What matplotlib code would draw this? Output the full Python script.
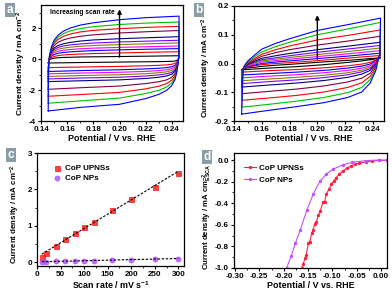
import numpy as np
import matplotlib
matplotlib.use("Agg")
import matplotlib.pyplot as plt
from matplotlib.ticker import MultipleLocator, FormatStrFormatter

plt.rcParams['font.family'] = ['Liberation Sans', 'DejaVu Sans']
plt.rcParams['font.weight'] = 'bold'
plt.rcParams['axes.unicode_minus'] = False
plt.rcParams['mathtext.fontset'] = 'custom'
plt.rcParams['mathtext.rm'] = 'Liberation Sans:bold'
plt.rcParams['mathtext.it'] = 'Liberation Sans:bold'
plt.rcParams['mathtext.bf'] = 'Liberation Sans:bold'
plt.rcParams['mathtext.default'] = 'rm'

# ---------------- data ----------------
scan_rates = [10, 20, 40, 60, 80, 100, 120, 160, 200, 250, 300]
loop_colors = ['#000000', '#ff0000', '#0000ff', '#ff00ff', '#808000', '#8000ff',
               '#000080', '#800040', '#ff0000', '#00c000', '#0000ff']

# panel a: CoP UPNSs CV loops (upper = anodic branch, lower = cathodic branch)
a_E_up = [0.1455, 0.1458, 0.1465, 0.148, 0.150, 0.153, 0.157, 0.162, 0.170, 0.180, 0.200, 0.220, 0.2455]
a_E_low = [0.2455, 0.2453, 0.2448, 0.2438, 0.2425, 0.240, 0.236, 0.230, 0.220, 0.200, 0.170, 0.1455]
a_up = [
    [-0.25, -0.15, -0.05, 0.02, 0.06, 0.09, 0.11, 0.12, 0.14, 0.15, 0.17, 0.19, 0.22],
    [-0.55, -0.30, -0.05, 0.10, 0.17, 0.23, 0.27, 0.30, 0.33, 0.36, 0.40, 0.44, 0.48],
    [-0.80, -0.35, 0.00, 0.20, 0.30, 0.38, 0.43, 0.47, 0.51, 0.55, 0.60, 0.64, 0.68],
    [-0.95, -0.35, 0.05, 0.28, 0.42, 0.51, 0.57, 0.62, 0.67, 0.71, 0.76, 0.80, 0.85],
    [-1.12, -0.35, 0.08, 0.36, 0.52, 0.64, 0.71, 0.77, 0.83, 0.88, 0.94, 0.99, 1.05],
    [-1.28, -0.35, 0.10, 0.43, 0.62, 0.76, 0.85, 0.92, 0.98, 1.04, 1.11, 1.16, 1.22],
    [-1.45, -0.35, 0.12, 0.50, 0.72, 0.88, 0.99, 1.08, 1.17, 1.24, 1.32, 1.38, 1.45],
    [-1.95, -0.35, 0.15, 0.60, 0.88, 1.09, 1.24, 1.36, 1.48, 1.57, 1.69, 1.77, 1.85],
    [-2.40, -0.35, 0.18, 0.68, 1.02, 1.28, 1.47, 1.62, 1.76, 1.86, 1.97, 2.05, 2.12],
    [-2.85, -0.35, 0.20, 0.74, 1.12, 1.42, 1.64, 1.82, 1.98, 2.10, 2.24, 2.33, 2.40],
    [-3.35, -0.35, 0.22, 0.80, 1.22, 1.55, 1.80, 2.00, 2.20, 2.35, 2.55, 2.68, 2.78],
]
a_low = [
    [0.22, 0.08, -0.02, -0.08, -0.12, -0.14, -0.15, -0.16, -0.17, -0.19, -0.22, -0.25],
    [0.48, 0.15, -0.05, -0.18, -0.27, -0.33, -0.37, -0.40, -0.43, -0.47, -0.51, -0.55],
    [0.68, 0.18, -0.08, -0.27, -0.40, -0.49, -0.55, -0.59, -0.63, -0.69, -0.74, -0.80],
    [0.85, 0.18, -0.10, -0.34, -0.50, -0.61, -0.69, -0.74, -0.79, -0.85, -0.90, -0.95],
    [1.05, 0.18, -0.12, -0.40, -0.60, -0.73, -0.82, -0.88, -0.94, -1.01, -1.06, -1.12],
    [1.22, 0.18, -0.14, -0.46, -0.69, -0.85, -0.95, -1.02, -1.09, -1.17, -1.22, -1.28],
    [1.45, 0.18, -0.16, -0.52, -0.78, -0.97, -1.09, -1.17, -1.25, -1.34, -1.40, -1.45],
    [1.85, 0.18, -0.18, -0.60, -0.92, -1.17, -1.34, -1.46, -1.58, -1.74, -1.85, -1.95],
    [2.12, 0.18, -0.20, -0.68, -1.06, -1.36, -1.58, -1.75, -1.92, -2.15, -2.29, -2.40],
    [2.40, 0.18, -0.22, -0.75, -1.18, -1.53, -1.80, -2.02, -2.22, -2.52, -2.70, -2.85],
    [2.78, 0.18, -0.25, -0.82, -1.30, -1.70, -2.02, -2.28, -2.55, -2.92, -3.12, -3.35],
]

# panel b: CoP NPs CV loops
b_E_up = [0.1455, 0.1465, 0.148, 0.150, 0.155, 0.160, 0.170, 0.180, 0.200, 0.225, 0.2455]
b_E_low = [0.2455, 0.2450, 0.2440, 0.242, 0.238, 0.232, 0.222, 0.205, 0.185, 0.165, 0.1455]
b_up = [
    [-0.022, -0.018, -0.017, -0.015, -0.013, -0.010, -0.006, -0.003, 0.004, 0.012, 0.020],
    [-0.030, -0.018, -0.016, -0.012, -0.008, -0.004, 0.000, 0.003, 0.010, 0.020, 0.028],
    [-0.040, -0.018, -0.015, -0.010, -0.005, 0.000, 0.005, 0.009, 0.017, 0.027, 0.036],
    [-0.050, -0.018, -0.014, -0.008, -0.002, 0.005, 0.010, 0.015, 0.024, 0.035, 0.045],
    [-0.060, -0.018, -0.013, -0.006, 0.002, 0.009, 0.015, 0.021, 0.031, 0.043, 0.054],
    [-0.070, -0.018, -0.012, -0.004, 0.005, 0.013, 0.020, 0.027, 0.039, 0.052, 0.063],
    [-0.082, -0.018, -0.011, -0.002, 0.008, 0.018, 0.027, 0.035, 0.048, 0.062, 0.074],
    [-0.105, -0.018, -0.010, 0.000, 0.013, 0.025, 0.038, 0.048, 0.064, 0.080, 0.095],
    [-0.128, -0.018, -0.008, 0.003, 0.018, 0.032, 0.048, 0.061, 0.082, 0.100, 0.117],
    [-0.152, -0.018, -0.006, 0.006, 0.024, 0.040, 0.059, 0.074, 0.100, 0.123, 0.143],
    [-0.176, -0.018, -0.004, 0.009, 0.030, 0.050, 0.070, 0.086, 0.115, 0.138, 0.158],
]
b_low = [
    [0.020, 0.019, 0.018, 0.016, 0.013, 0.009, 0.004, -0.004, -0.011, -0.016, -0.022],
    [0.028, 0.024, 0.020, 0.012, 0.004, -0.002, -0.008, -0.015, -0.021, -0.025, -0.030],
    [0.036, 0.026, 0.020, 0.009, -0.002, -0.009, -0.016, -0.024, -0.030, -0.035, -0.040],
    [0.045, 0.027, 0.020, 0.006, -0.008, -0.016, -0.024, -0.032, -0.039, -0.044, -0.050],
    [0.054, 0.028, 0.020, 0.003, -0.013, -0.023, -0.032, -0.041, -0.048, -0.054, -0.060],
    [0.063, 0.029, 0.020, 0.000, -0.018, -0.029, -0.039, -0.049, -0.057, -0.063, -0.070],
    [0.074, 0.030, 0.020, -0.003, -0.024, -0.037, -0.048, -0.059, -0.068, -0.075, -0.082],
    [0.095, 0.031, 0.019, -0.008, -0.034, -0.051, -0.064, -0.078, -0.089, -0.097, -0.105],
    [0.117, 0.032, 0.018, -0.014, -0.045, -0.067, -0.083, -0.099, -0.111, -0.120, -0.128],
    [0.143, 0.033, 0.017, -0.020, -0.056, -0.083, -0.101, -0.118, -0.131, -0.142, -0.152],
    [0.158, 0.034, 0.016, -0.026, -0.068, -0.099, -0.118, -0.136, -0.150, -0.163, -0.176],
]

# panel c: current density vs scan rate
c_upnss = [0.15, 0.27, 0.45, 0.63, 0.81, 0.96, 1.12, 1.45, 1.75, 2.08, 2.44]
c_nps = [0.010, 0.020, 0.030, 0.035, 0.040, 0.045, 0.050, 0.065, 0.075, 0.090, 0.105]

# panel d: ECSA-normalised polarisation curves
d_upnss_E = [-0.1627, -0.1600, -0.1560, -0.1540, -0.1493, -0.1470, -0.1426, -0.1400,
             -0.1359, -0.1330, -0.1292, -0.1250, -0.1192, -0.1160, -0.1125, -0.1070,
             -0.1024, -0.0970, -0.0924, -0.0860, -0.0790, -0.0700, -0.0622, -0.0540,
             -0.0455, -0.0320, -0.0187, -0.0050, 0.0114]
d_upnss_j = [-1.000, -0.960, -0.909, -0.880, -0.771, -0.760, -0.680, -0.650,
             -0.588, -0.575, -0.512, -0.470, -0.390, -0.385, -0.314, -0.270,
             -0.223, -0.195, -0.162, -0.130, -0.101, -0.075, -0.055, -0.040,
             -0.030, -0.018, -0.009, -0.004, -0.003]
d_nps_E = [-0.1942, -0.1848, -0.1761, -0.1660, -0.1527, -0.1393, -0.1259, -0.1125,
           -0.0991, -0.0790, -0.0589, -0.0321, -0.0053, 0.0114]
d_nps_j = [-1.000, -0.893, -0.771, -0.649, -0.466, -0.314, -0.198, -0.131,
           -0.085, -0.046, -0.021, -0.006, 0.000, 0.000]

# ---------------- figure ----------------
W, H = 392, 294
fig = plt.figure(figsize=(W / 100, H / 100), dpi=100)

def add_ax(l, t, r, b):
    return fig.add_axes([l / W, 1 - b / H, (r - l) / W, (b - t) / H])

ax_a = add_ax(41, 5, 183, 121)
ax_b = add_ax(234, 6, 384, 121)
ax_c = add_ax(37, 153, 184, 266)
ax_d = add_ax(234, 153, 387, 268)

TICK_FS = 5.8
LAB_FS = 6.0

def style(ax):
    for s in ax.spines.values():
        s.set_linewidth(0.9)
    ax.tick_params(which='major', direction='out', length=2.5, width=0.8,
                   labelsize=TICK_FS, pad=1.2)
    ax.tick_params(which='minor', direction='out', length=1.5, width=0.6)
    for lab in ax.get_xticklabels() + ax.get_yticklabels():
        lab.set_fontweight('bold')

ylab = 'Current density / mA cm$^{-2}$'

# panel a
for k in range(len(scan_rates)):
    xs = a_E_up + a_E_low + [a_E_up[0]]
    ys = a_up[k] + a_low[k] + [a_up[k][0]]
    ax_a.plot(xs, ys, color=loop_colors[k], lw=0.8)
ax_a.set_xlim(0.14, 0.2485)
ax_a.set_ylim(-4, 3.5)
ax_a.xaxis.set_major_locator(MultipleLocator(0.02))
ax_a.xaxis.set_minor_locator(MultipleLocator(0.01))
ax_a.yaxis.set_major_locator(MultipleLocator(2))
ax_a.yaxis.set_minor_locator(MultipleLocator(1))
ax_a.xaxis.set_major_formatter(FormatStrFormatter('%.2f'))
ax_a.annotate('', xy=(0.20, 3.4), xytext=(0.20, -0.05),
              arrowprops=dict(arrowstyle='-|>', color='black', lw=1.0, mutation_scale=6))
ax_a.text(0.1465, 3.0, 'Increasing scan rate', fontsize=4.8, fontweight='bold', va='center')
ax_a.set_xlabel('Potential / V vs. RHE', fontsize=LAB_FS + 0.4, fontweight='bold', labelpad=0.5)
ax_a.set_ylabel(ylab, fontsize=LAB_FS, fontweight='bold')
ax_a.yaxis.set_label_coords(-0.095, 0.5)
style(ax_a)

# panel b
for k in range(len(scan_rates)):
    xs = b_E_up + b_E_low + [b_E_up[0]]
    ys = b_up[k] + b_low[k] + [b_up[k][0]]
    ax_b.plot(xs, ys, color=loop_colors[k], lw=0.8)
ax_b.set_xlim(0.14, 0.248)
ax_b.set_ylim(-0.2, 0.2)
ax_b.xaxis.set_major_locator(MultipleLocator(0.02))
ax_b.xaxis.set_minor_locator(MultipleLocator(0.01))
ax_b.yaxis.set_major_locator(MultipleLocator(0.1))
ax_b.yaxis.set_minor_locator(MultipleLocator(0.05))
ax_b.xaxis.set_major_formatter(FormatStrFormatter('%.2f'))
ax_b.yaxis.set_major_formatter(FormatStrFormatter('%.1f'))
ax_b.annotate('', xy=(0.20, 0.178), xytext=(0.20, 0.006),
              arrowprops=dict(arrowstyle='-|>', color='black', lw=1.0, mutation_scale=6))
ax_b.set_xlabel('Potential / V vs. RHE', fontsize=LAB_FS + 0.4, fontweight='bold', labelpad=0.5)
ax_b.set_ylabel(ylab, fontsize=LAB_FS - 0.2, fontweight='bold')
ax_b.yaxis.set_label_coords(-0.138, 0.46)
style(ax_b)

# panel c
sr = np.array(scan_rates, dtype=float)
for vals, col, mk, lab in [(c_upnss, '#ff0000', 's', 'CoP UPNSs'),
                           (c_nps, '#b040ff', 'o', 'CoP NPs')]:
    p = np.polyfit(sr, vals, 1)
    xx = np.array([sr[0], sr[-1]])
    ax_c.plot(xx, np.polyval(p, xx), color='black', lw=0.8, ls=(0, (2.2, 1.4)), zorder=3)
    ax_c.plot(sr, vals, ls='none', marker=mk, ms=3.6, mfc=col, mec=col, mew=0.6,
              alpha=0.75, label=lab, zorder=2)
ax_c.set_xlim(0, 312)
ax_c.set_ylim(-0.1, 3)
ax_c.xaxis.set_major_locator(MultipleLocator(50))
ax_c.xaxis.set_minor_locator(MultipleLocator(25))
ax_c.yaxis.set_major_locator(MultipleLocator(1))
ax_c.yaxis.set_minor_locator(MultipleLocator(0.5))
ax_c.set_xlabel('Scan rate / mV s$^{-1}$', fontsize=LAB_FS + 0.4, fontweight='bold', labelpad=0.5)
ax_c.set_ylabel(ylab, fontsize=LAB_FS - 0.3, fontweight='bold')
ax_c.yaxis.set_label_coords(-0.104, 0.455)
ax_c.legend(loc='upper left', bbox_to_anchor=(0.098, 0.91), frameon=False,
            prop={'size': 5.8, 'weight': 'bold'}, handlelength=1.0, handletextpad=0.5,
            labelspacing=0.3, borderpad=0.2, borderaxespad=0)
style(ax_c)

# panel d
ax_d.plot(d_upnss_E, d_upnss_j, color='#ff2040', lw=0.8, marker='o', ms=1.4,
          mfc='#ff2040', mec='#ff2040', label='CoP UPNSs')
ax_d.plot(d_nps_E, d_nps_j, color='#c050ff', lw=0.8, marker='o', ms=1.4,
          mfc='#c050ff', mec='#c050ff', label='CoP NPs')
ax_d.set_xlim(-0.302, 0.012)
ax_d.set_ylim(-1.0, 0.065)
ax_d.xaxis.set_major_locator(MultipleLocator(0.05))
ax_d.xaxis.set_minor_locator(MultipleLocator(0.025))
ax_d.yaxis.set_major_locator(MultipleLocator(0.2))
ax_d.yaxis.set_minor_locator(MultipleLocator(0.1))
ax_d.xaxis.set_major_formatter(FormatStrFormatter('%.2f'))
ax_d.yaxis.set_major_formatter(FormatStrFormatter('%.1f'))
ax_d.set_xlabel('Potential / V vs. RHE', fontsize=LAB_FS + 0.4, fontweight='bold', labelpad=0.5)
ax_d.set_ylabel('Current density / mA cm$^{-2}_{ESCA}$', fontsize=LAB_FS - 0.4,
                fontweight='bold')
ax_d.yaxis.set_label_coords(-0.131, 0.45)
ax_d.legend(loc='upper left', bbox_to_anchor=(0.055, 0.913), frameon=False,
            prop={'size': 5.8, 'weight': 'bold'}, handlelength=1.5, handletextpad=0.3,
            labelspacing=0.5, borderpad=0.2, borderaxespad=0)
style(ax_d)

# panel letters
for lx, ly, letter in [(2, 2, 'a'), (191, 2, 'b'), (3, 147, 'c'), (199, 149, 'd')]:
    fig.text((lx + 8) / W, 1 - (ly + 8) / H, letter, color='white', fontsize=8.5,
             fontweight='bold', ha='center', va='center',
             bbox=dict(boxstyle='square,pad=0.12', fc='#8a9ca6', ec='none'))

fig.savefig('out.png', dpi=100)
